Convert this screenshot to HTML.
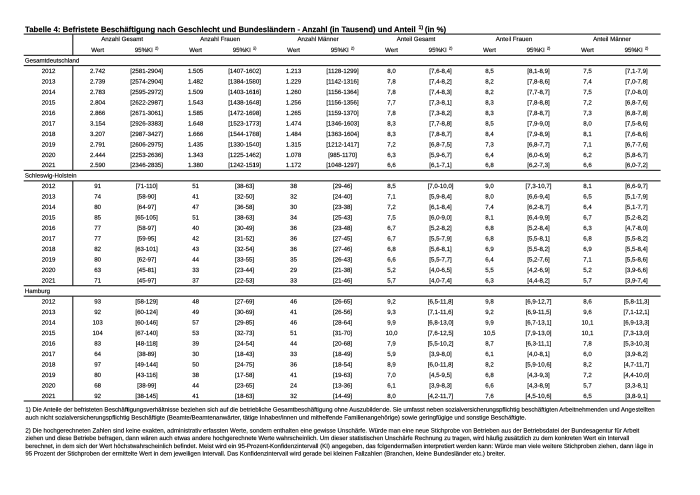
<!DOCTYPE html>
<html lang="de"><head><meta charset="utf-8"><title>Tabelle 4</title>
<style>
html,body{margin:0;padding:0;background:#fff;overflow:hidden}
body{width:700px;height:495px;position:relative;overflow:hidden}
#p{left:0;top:0;width:1400px;height:990px;transform:scale(0.5);transform-origin:0 0;will-change:transform;background:#fff;font-family:"Liberation Sans",Arial,sans-serif;color:#000;-webkit-text-size-adjust:none;text-rendering:geometricPrecision;-webkit-text-stroke:0.28px #000}
div{position:absolute;white-space:nowrap}
.hl,.vl{background:#2b2b2b}
.c{font-size:12.26px;line-height:20.966px;height:20.966px;text-align:center}
.l{font-size:12.26px;line-height:20.966px;height:20.966px}
.t{font-size:15.63px;font-weight:bold;left:50.0px;top:49.6px;line-height:20px;color:#000}
.f{font-size:12.26px;line-height:15.5px;left:50.8px}
sup{font-size:64%;vertical-align:baseline;position:relative;top:-0.6em;line-height:0;margin-left:0.12em}
.t sup{font-size:68%;margin:0 -0.09em 0 0.12em;top:-0.5em}
</style></head><body>
<div id="p">
<div class="t">Tabelle 4: Befristete Beschäftigung nach Geschlecht und Bundesländern - Anzahl (in Tausend) und Anteil <sup>1)</sup> (in %)</div>
<svg width="1400" height="990" fill="#2b2b2b" style="position:absolute;left:0;top:0"><rect x="47.40" y="67.05" width="1273.80" height="2.30"/><rect x="47.40" y="109.58" width="1273.80" height="2.30"/><rect x="144.45" y="68.20" width="2.30" height="42.53"/><rect x="47.40" y="129.95" width="1273.80" height="2.30"/><rect x="144.45" y="131.10" width="2.30" height="209.66"/><rect x="47.40" y="339.61" width="1273.80" height="2.30"/><rect x="47.40" y="360.57" width="1273.80" height="2.30"/><rect x="144.45" y="361.72" width="2.30" height="209.66"/><rect x="47.40" y="570.23" width="1273.80" height="2.30"/><rect x="47.40" y="591.20" width="1273.80" height="2.30"/><rect x="144.45" y="592.35" width="2.30" height="209.66"/><rect x="47.40" y="800.86" width="1273.80" height="2.30"/></svg>
<div class="l" style="left:49.70px;top:110.63px">Gesamtdeutschland</div>
<div class="c" style="left:48.10px;top:131.80px;width:98.20px">2012</div>
<div class="c" style="left:146.30px;top:131.80px;width:97.97px">2.742</div>
<div class="c" style="left:244.27px;top:131.80px;width:97.97px">[2581-2904]</div>
<div class="c" style="left:342.23px;top:131.80px;width:97.97px">1.505</div>
<div class="c" style="left:440.20px;top:131.80px;width:97.97px">[1407-1602]</div>
<div class="c" style="left:538.17px;top:131.80px;width:97.97px">1.213</div>
<div class="c" style="left:636.13px;top:131.80px;width:97.97px">[1128-1299]</div>
<div class="c" style="left:734.10px;top:131.80px;width:97.97px">8,0</div>
<div class="c" style="left:832.07px;top:131.80px;width:97.97px">[7,6-8,4]</div>
<div class="c" style="left:930.03px;top:131.80px;width:97.97px">8,5</div>
<div class="c" style="left:1028.00px;top:131.80px;width:97.97px">[8,1-8,9]</div>
<div class="c" style="left:1125.97px;top:131.80px;width:97.97px">7,5</div>
<div class="c" style="left:1223.93px;top:131.80px;width:97.97px">[7,1-7,9]</div>
<div class="c" style="left:48.10px;top:152.76px;width:98.20px">2013</div>
<div class="c" style="left:146.30px;top:152.76px;width:97.97px">2.739</div>
<div class="c" style="left:244.27px;top:152.76px;width:97.97px">[2574-2904]</div>
<div class="c" style="left:342.23px;top:152.76px;width:97.97px">1.482</div>
<div class="c" style="left:440.20px;top:152.76px;width:97.97px">[1384-1580]</div>
<div class="c" style="left:538.17px;top:152.76px;width:97.97px">1.229</div>
<div class="c" style="left:636.13px;top:152.76px;width:97.97px">[1142-1316]</div>
<div class="c" style="left:734.10px;top:152.76px;width:97.97px">7,8</div>
<div class="c" style="left:832.07px;top:152.76px;width:97.97px">[7,4-8,2]</div>
<div class="c" style="left:930.03px;top:152.76px;width:97.97px">8,2</div>
<div class="c" style="left:1028.00px;top:152.76px;width:97.97px">[7,8-8,6]</div>
<div class="c" style="left:1125.97px;top:152.76px;width:97.97px">7,4</div>
<div class="c" style="left:1223.93px;top:152.76px;width:97.97px">[7,0-7,8]</div>
<div class="c" style="left:48.10px;top:173.73px;width:98.20px">2014</div>
<div class="c" style="left:146.30px;top:173.73px;width:97.97px">2.783</div>
<div class="c" style="left:244.27px;top:173.73px;width:97.97px">[2595-2972]</div>
<div class="c" style="left:342.23px;top:173.73px;width:97.97px">1.509</div>
<div class="c" style="left:440.20px;top:173.73px;width:97.97px">[1403-1616]</div>
<div class="c" style="left:538.17px;top:173.73px;width:97.97px">1.260</div>
<div class="c" style="left:636.13px;top:173.73px;width:97.97px">[1156-1364]</div>
<div class="c" style="left:734.10px;top:173.73px;width:97.97px">7,8</div>
<div class="c" style="left:832.07px;top:173.73px;width:97.97px">[7,4-8,3]</div>
<div class="c" style="left:930.03px;top:173.73px;width:97.97px">8,2</div>
<div class="c" style="left:1028.00px;top:173.73px;width:97.97px">[7,7-8,7]</div>
<div class="c" style="left:1125.97px;top:173.73px;width:97.97px">7,5</div>
<div class="c" style="left:1223.93px;top:173.73px;width:97.97px">[7,0-8,0]</div>
<div class="c" style="left:48.10px;top:194.70px;width:98.20px">2015</div>
<div class="c" style="left:146.30px;top:194.70px;width:97.97px">2.804</div>
<div class="c" style="left:244.27px;top:194.70px;width:97.97px">[2622-2987]</div>
<div class="c" style="left:342.23px;top:194.70px;width:97.97px">1.543</div>
<div class="c" style="left:440.20px;top:194.70px;width:97.97px">[1438-1648]</div>
<div class="c" style="left:538.17px;top:194.70px;width:97.97px">1.256</div>
<div class="c" style="left:636.13px;top:194.70px;width:97.97px">[1156-1356]</div>
<div class="c" style="left:734.10px;top:194.70px;width:97.97px">7,7</div>
<div class="c" style="left:832.07px;top:194.70px;width:97.97px">[7,3-8,1]</div>
<div class="c" style="left:930.03px;top:194.70px;width:97.97px">8,3</div>
<div class="c" style="left:1028.00px;top:194.70px;width:97.97px">[7,8-8,8]</div>
<div class="c" style="left:1125.97px;top:194.70px;width:97.97px">7,2</div>
<div class="c" style="left:1223.93px;top:194.70px;width:97.97px">[6,8-7,6]</div>
<div class="c" style="left:48.10px;top:215.66px;width:98.20px">2016</div>
<div class="c" style="left:146.30px;top:215.66px;width:97.97px">2.866</div>
<div class="c" style="left:244.27px;top:215.66px;width:97.97px">[2671-3061]</div>
<div class="c" style="left:342.23px;top:215.66px;width:97.97px">1.585</div>
<div class="c" style="left:440.20px;top:215.66px;width:97.97px">[1472-1698]</div>
<div class="c" style="left:538.17px;top:215.66px;width:97.97px">1.265</div>
<div class="c" style="left:636.13px;top:215.66px;width:97.97px">[1159-1370]</div>
<div class="c" style="left:734.10px;top:215.66px;width:97.97px">7,8</div>
<div class="c" style="left:832.07px;top:215.66px;width:97.97px">[7,3-8,2]</div>
<div class="c" style="left:930.03px;top:215.66px;width:97.97px">8,3</div>
<div class="c" style="left:1028.00px;top:215.66px;width:97.97px">[7,8-8,7]</div>
<div class="c" style="left:1125.97px;top:215.66px;width:97.97px">7,3</div>
<div class="c" style="left:1223.93px;top:215.66px;width:97.97px">[6,8-7,8]</div>
<div class="c" style="left:48.10px;top:236.63px;width:98.20px">2017</div>
<div class="c" style="left:146.30px;top:236.63px;width:97.97px">3.154</div>
<div class="c" style="left:244.27px;top:236.63px;width:97.97px">[2926-3383]</div>
<div class="c" style="left:342.23px;top:236.63px;width:97.97px">1.648</div>
<div class="c" style="left:440.20px;top:236.63px;width:97.97px">[1523-1773]</div>
<div class="c" style="left:538.17px;top:236.63px;width:97.97px">1.474</div>
<div class="c" style="left:636.13px;top:236.63px;width:97.97px">[1346-1603]</div>
<div class="c" style="left:734.10px;top:236.63px;width:97.97px">8,3</div>
<div class="c" style="left:832.07px;top:236.63px;width:97.97px">[7,7-8,8]</div>
<div class="c" style="left:930.03px;top:236.63px;width:97.97px">8,5</div>
<div class="c" style="left:1028.00px;top:236.63px;width:97.97px">[7,9-9,0]</div>
<div class="c" style="left:1125.97px;top:236.63px;width:97.97px">8,0</div>
<div class="c" style="left:1223.93px;top:236.63px;width:97.97px">[7,5-8,6]</div>
<div class="c" style="left:48.10px;top:257.59px;width:98.20px">2018</div>
<div class="c" style="left:146.30px;top:257.59px;width:97.97px">3.207</div>
<div class="c" style="left:244.27px;top:257.59px;width:97.97px">[2987-3427]</div>
<div class="c" style="left:342.23px;top:257.59px;width:97.97px">1.666</div>
<div class="c" style="left:440.20px;top:257.59px;width:97.97px">[1544-1788]</div>
<div class="c" style="left:538.17px;top:257.59px;width:97.97px">1.484</div>
<div class="c" style="left:636.13px;top:257.59px;width:97.97px">[1363-1604]</div>
<div class="c" style="left:734.10px;top:257.59px;width:97.97px">8,3</div>
<div class="c" style="left:832.07px;top:257.59px;width:97.97px">[7,8-8,7]</div>
<div class="c" style="left:930.03px;top:257.59px;width:97.97px">8,4</div>
<div class="c" style="left:1028.00px;top:257.59px;width:97.97px">[7,9-8,9]</div>
<div class="c" style="left:1125.97px;top:257.59px;width:97.97px">8,1</div>
<div class="c" style="left:1223.93px;top:257.59px;width:97.97px">[7,6-8,6]</div>
<div class="c" style="left:48.10px;top:278.56px;width:98.20px">2019</div>
<div class="c" style="left:146.30px;top:278.56px;width:97.97px">2.791</div>
<div class="c" style="left:244.27px;top:278.56px;width:97.97px">[2606-2975]</div>
<div class="c" style="left:342.23px;top:278.56px;width:97.97px">1.435</div>
<div class="c" style="left:440.20px;top:278.56px;width:97.97px">[1330-1540]</div>
<div class="c" style="left:538.17px;top:278.56px;width:97.97px">1.315</div>
<div class="c" style="left:636.13px;top:278.56px;width:97.97px">[1212-1417]</div>
<div class="c" style="left:734.10px;top:278.56px;width:97.97px">7,2</div>
<div class="c" style="left:832.07px;top:278.56px;width:97.97px">[6,8-7,5]</div>
<div class="c" style="left:930.03px;top:278.56px;width:97.97px">7,3</div>
<div class="c" style="left:1028.00px;top:278.56px;width:97.97px">[6,8-7,7]</div>
<div class="c" style="left:1125.97px;top:278.56px;width:97.97px">7,1</div>
<div class="c" style="left:1223.93px;top:278.56px;width:97.97px">[6,7-7,6]</div>
<div class="c" style="left:48.10px;top:299.53px;width:98.20px">2020</div>
<div class="c" style="left:146.30px;top:299.53px;width:97.97px">2.444</div>
<div class="c" style="left:244.27px;top:299.53px;width:97.97px">[2253-2636]</div>
<div class="c" style="left:342.23px;top:299.53px;width:97.97px">1.343</div>
<div class="c" style="left:440.20px;top:299.53px;width:97.97px">[1225-1462]</div>
<div class="c" style="left:538.17px;top:299.53px;width:97.97px">1.078</div>
<div class="c" style="left:636.13px;top:299.53px;width:97.97px">[985-1170]</div>
<div class="c" style="left:734.10px;top:299.53px;width:97.97px">6,3</div>
<div class="c" style="left:832.07px;top:299.53px;width:97.97px">[5,9-6,7]</div>
<div class="c" style="left:930.03px;top:299.53px;width:97.97px">6,4</div>
<div class="c" style="left:1028.00px;top:299.53px;width:97.97px">[6,0-6,9]</div>
<div class="c" style="left:1125.97px;top:299.53px;width:97.97px">6,2</div>
<div class="c" style="left:1223.93px;top:299.53px;width:97.97px">[5,8-6,7]</div>
<div class="c" style="left:48.10px;top:320.49px;width:98.20px">2021</div>
<div class="c" style="left:146.30px;top:320.49px;width:97.97px">2.590</div>
<div class="c" style="left:244.27px;top:320.49px;width:97.97px">[2346-2835]</div>
<div class="c" style="left:342.23px;top:320.49px;width:97.97px">1.380</div>
<div class="c" style="left:440.20px;top:320.49px;width:97.97px">[1242-1519]</div>
<div class="c" style="left:538.17px;top:320.49px;width:97.97px">1.172</div>
<div class="c" style="left:636.13px;top:320.49px;width:97.97px">[1048-1297]</div>
<div class="c" style="left:734.10px;top:320.49px;width:97.97px">6,6</div>
<div class="c" style="left:832.07px;top:320.49px;width:97.97px">[6,1-7,1]</div>
<div class="c" style="left:930.03px;top:320.49px;width:97.97px">6,8</div>
<div class="c" style="left:1028.00px;top:320.49px;width:97.97px">[6,2-7,3]</div>
<div class="c" style="left:1125.97px;top:320.49px;width:97.97px">6,6</div>
<div class="c" style="left:1223.93px;top:320.49px;width:97.97px">[6,0-7,2]</div>
<div class="l" style="left:49.70px;top:341.26px">Schleswig-Holstein</div>
<div class="c" style="left:48.10px;top:362.42px;width:98.20px">2012</div>
<div class="c" style="left:146.30px;top:362.42px;width:97.97px">91</div>
<div class="c" style="left:244.27px;top:362.42px;width:97.97px">[71-110]</div>
<div class="c" style="left:342.23px;top:362.42px;width:97.97px">51</div>
<div class="c" style="left:440.20px;top:362.42px;width:97.97px">[38-63]</div>
<div class="c" style="left:538.17px;top:362.42px;width:97.97px">38</div>
<div class="c" style="left:636.13px;top:362.42px;width:97.97px">[29-46]</div>
<div class="c" style="left:734.10px;top:362.42px;width:97.97px">8,5</div>
<div class="c" style="left:832.07px;top:362.42px;width:97.97px">[7,0-10,0]</div>
<div class="c" style="left:930.03px;top:362.42px;width:97.97px">9,0</div>
<div class="c" style="left:1028.00px;top:362.42px;width:97.97px">[7,3-10,7]</div>
<div class="c" style="left:1125.97px;top:362.42px;width:97.97px">8,1</div>
<div class="c" style="left:1223.93px;top:362.42px;width:97.97px">[6,6-9,7]</div>
<div class="c" style="left:48.10px;top:383.39px;width:98.20px">2013</div>
<div class="c" style="left:146.30px;top:383.39px;width:97.97px">74</div>
<div class="c" style="left:244.27px;top:383.39px;width:97.97px">[58-90]</div>
<div class="c" style="left:342.23px;top:383.39px;width:97.97px">41</div>
<div class="c" style="left:440.20px;top:383.39px;width:97.97px">[32-50]</div>
<div class="c" style="left:538.17px;top:383.39px;width:97.97px">32</div>
<div class="c" style="left:636.13px;top:383.39px;width:97.97px">[24-40]</div>
<div class="c" style="left:734.10px;top:383.39px;width:97.97px">7,1</div>
<div class="c" style="left:832.07px;top:383.39px;width:97.97px">[5,9-8,4]</div>
<div class="c" style="left:930.03px;top:383.39px;width:97.97px">8,0</div>
<div class="c" style="left:1028.00px;top:383.39px;width:97.97px">[6,6-9,4]</div>
<div class="c" style="left:1125.97px;top:383.39px;width:97.97px">6,5</div>
<div class="c" style="left:1223.93px;top:383.39px;width:97.97px">[5,1-7,9]</div>
<div class="c" style="left:48.10px;top:404.36px;width:98.20px">2014</div>
<div class="c" style="left:146.30px;top:404.36px;width:97.97px">80</div>
<div class="c" style="left:244.27px;top:404.36px;width:97.97px">[64-97]</div>
<div class="c" style="left:342.23px;top:404.36px;width:97.97px">47</div>
<div class="c" style="left:440.20px;top:404.36px;width:97.97px">[36-58]</div>
<div class="c" style="left:538.17px;top:404.36px;width:97.97px">30</div>
<div class="c" style="left:636.13px;top:404.36px;width:97.97px">[23-38]</div>
<div class="c" style="left:734.10px;top:404.36px;width:97.97px">7,2</div>
<div class="c" style="left:832.07px;top:404.36px;width:97.97px">[6,1-8,4]</div>
<div class="c" style="left:930.03px;top:404.36px;width:97.97px">7,4</div>
<div class="c" style="left:1028.00px;top:404.36px;width:97.97px">[6,2-8,7]</div>
<div class="c" style="left:1125.97px;top:404.36px;width:97.97px">6,4</div>
<div class="c" style="left:1223.93px;top:404.36px;width:97.97px">[5,1-7,7]</div>
<div class="c" style="left:48.10px;top:425.32px;width:98.20px">2015</div>
<div class="c" style="left:146.30px;top:425.32px;width:97.97px">85</div>
<div class="c" style="left:244.27px;top:425.32px;width:97.97px">[65-105]</div>
<div class="c" style="left:342.23px;top:425.32px;width:97.97px">51</div>
<div class="c" style="left:440.20px;top:425.32px;width:97.97px">[38-63]</div>
<div class="c" style="left:538.17px;top:425.32px;width:97.97px">34</div>
<div class="c" style="left:636.13px;top:425.32px;width:97.97px">[25-43]</div>
<div class="c" style="left:734.10px;top:425.32px;width:97.97px">7,5</div>
<div class="c" style="left:832.07px;top:425.32px;width:97.97px">[6,0-9,0]</div>
<div class="c" style="left:930.03px;top:425.32px;width:97.97px">8,1</div>
<div class="c" style="left:1028.00px;top:425.32px;width:97.97px">[6,4-9,9]</div>
<div class="c" style="left:1125.97px;top:425.32px;width:97.97px">6,7</div>
<div class="c" style="left:1223.93px;top:425.32px;width:97.97px">[5,2-8,2]</div>
<div class="c" style="left:48.10px;top:446.29px;width:98.20px">2016</div>
<div class="c" style="left:146.30px;top:446.29px;width:97.97px">77</div>
<div class="c" style="left:244.27px;top:446.29px;width:97.97px">[58-97]</div>
<div class="c" style="left:342.23px;top:446.29px;width:97.97px">40</div>
<div class="c" style="left:440.20px;top:446.29px;width:97.97px">[30-49]</div>
<div class="c" style="left:538.17px;top:446.29px;width:97.97px">36</div>
<div class="c" style="left:636.13px;top:446.29px;width:97.97px">[23-48]</div>
<div class="c" style="left:734.10px;top:446.29px;width:97.97px">6,7</div>
<div class="c" style="left:832.07px;top:446.29px;width:97.97px">[5,2-8,2]</div>
<div class="c" style="left:930.03px;top:446.29px;width:97.97px">6,8</div>
<div class="c" style="left:1028.00px;top:446.29px;width:97.97px">[5,2-8,4]</div>
<div class="c" style="left:1125.97px;top:446.29px;width:97.97px">6,3</div>
<div class="c" style="left:1223.93px;top:446.29px;width:97.97px">[4,7-8,0]</div>
<div class="c" style="left:48.10px;top:467.25px;width:98.20px">2017</div>
<div class="c" style="left:146.30px;top:467.25px;width:97.97px">77</div>
<div class="c" style="left:244.27px;top:467.25px;width:97.97px">[59-95]</div>
<div class="c" style="left:342.23px;top:467.25px;width:97.97px">42</div>
<div class="c" style="left:440.20px;top:467.25px;width:97.97px">[31-52]</div>
<div class="c" style="left:538.17px;top:467.25px;width:97.97px">36</div>
<div class="c" style="left:636.13px;top:467.25px;width:97.97px">[27-45]</div>
<div class="c" style="left:734.10px;top:467.25px;width:97.97px">6,7</div>
<div class="c" style="left:832.07px;top:467.25px;width:97.97px">[5,5-7,9]</div>
<div class="c" style="left:930.03px;top:467.25px;width:97.97px">6,8</div>
<div class="c" style="left:1028.00px;top:467.25px;width:97.97px">[5,5-8,1]</div>
<div class="c" style="left:1125.97px;top:467.25px;width:97.97px">6,8</div>
<div class="c" style="left:1223.93px;top:467.25px;width:97.97px">[5,5-8,2]</div>
<div class="c" style="left:48.10px;top:488.22px;width:98.20px">2018</div>
<div class="c" style="left:146.30px;top:488.22px;width:97.97px">82</div>
<div class="c" style="left:244.27px;top:488.22px;width:97.97px">[63-101]</div>
<div class="c" style="left:342.23px;top:488.22px;width:97.97px">43</div>
<div class="c" style="left:440.20px;top:488.22px;width:97.97px">[32-54]</div>
<div class="c" style="left:538.17px;top:488.22px;width:97.97px">36</div>
<div class="c" style="left:636.13px;top:488.22px;width:97.97px">[27-46]</div>
<div class="c" style="left:734.10px;top:488.22px;width:97.97px">6,8</div>
<div class="c" style="left:832.07px;top:488.22px;width:97.97px">[5,6-8,1]</div>
<div class="c" style="left:930.03px;top:488.22px;width:97.97px">6,9</div>
<div class="c" style="left:1028.00px;top:488.22px;width:97.97px">[5,5-8,2]</div>
<div class="c" style="left:1125.97px;top:488.22px;width:97.97px">6,9</div>
<div class="c" style="left:1223.93px;top:488.22px;width:97.97px">[5,5-8,4]</div>
<div class="c" style="left:48.10px;top:509.19px;width:98.20px">2019</div>
<div class="c" style="left:146.30px;top:509.19px;width:97.97px">80</div>
<div class="c" style="left:244.27px;top:509.19px;width:97.97px">[62-97]</div>
<div class="c" style="left:342.23px;top:509.19px;width:97.97px">44</div>
<div class="c" style="left:440.20px;top:509.19px;width:97.97px">[33-55]</div>
<div class="c" style="left:538.17px;top:509.19px;width:97.97px">35</div>
<div class="c" style="left:636.13px;top:509.19px;width:97.97px">[26-43]</div>
<div class="c" style="left:734.10px;top:509.19px;width:97.97px">6,6</div>
<div class="c" style="left:832.07px;top:509.19px;width:97.97px">[5,5-7,7]</div>
<div class="c" style="left:930.03px;top:509.19px;width:97.97px">6,4</div>
<div class="c" style="left:1028.00px;top:509.19px;width:97.97px">[5,2-7,6]</div>
<div class="c" style="left:1125.97px;top:509.19px;width:97.97px">7,1</div>
<div class="c" style="left:1223.93px;top:509.19px;width:97.97px">[5,5-8,6]</div>
<div class="c" style="left:48.10px;top:530.15px;width:98.20px">2020</div>
<div class="c" style="left:146.30px;top:530.15px;width:97.97px">63</div>
<div class="c" style="left:244.27px;top:530.15px;width:97.97px">[45-81]</div>
<div class="c" style="left:342.23px;top:530.15px;width:97.97px">33</div>
<div class="c" style="left:440.20px;top:530.15px;width:97.97px">[23-44]</div>
<div class="c" style="left:538.17px;top:530.15px;width:97.97px">29</div>
<div class="c" style="left:636.13px;top:530.15px;width:97.97px">[21-38]</div>
<div class="c" style="left:734.10px;top:530.15px;width:97.97px">5,2</div>
<div class="c" style="left:832.07px;top:530.15px;width:97.97px">[4,0-6,5]</div>
<div class="c" style="left:930.03px;top:530.15px;width:97.97px">5,5</div>
<div class="c" style="left:1028.00px;top:530.15px;width:97.97px">[4,2-6,9]</div>
<div class="c" style="left:1125.97px;top:530.15px;width:97.97px">5,2</div>
<div class="c" style="left:1223.93px;top:530.15px;width:97.97px">[3,9-6,6]</div>
<div class="c" style="left:48.10px;top:551.12px;width:98.20px">2021</div>
<div class="c" style="left:146.30px;top:551.12px;width:97.97px">71</div>
<div class="c" style="left:244.27px;top:551.12px;width:97.97px">[45-97]</div>
<div class="c" style="left:342.23px;top:551.12px;width:97.97px">37</div>
<div class="c" style="left:440.20px;top:551.12px;width:97.97px">[22-53]</div>
<div class="c" style="left:538.17px;top:551.12px;width:97.97px">33</div>
<div class="c" style="left:636.13px;top:551.12px;width:97.97px">[21-46]</div>
<div class="c" style="left:734.10px;top:551.12px;width:97.97px">5,7</div>
<div class="c" style="left:832.07px;top:551.12px;width:97.97px">[4,0-7,4]</div>
<div class="c" style="left:930.03px;top:551.12px;width:97.97px">6,3</div>
<div class="c" style="left:1028.00px;top:551.12px;width:97.97px">[4,4-8,2]</div>
<div class="c" style="left:1125.97px;top:551.12px;width:97.97px">5,7</div>
<div class="c" style="left:1223.93px;top:551.12px;width:97.97px">[3,9-7,4]</div>
<div class="l" style="left:49.70px;top:571.88px">Hamburg</div>
<div class="c" style="left:48.10px;top:593.05px;width:98.20px">2012</div>
<div class="c" style="left:146.30px;top:593.05px;width:97.97px">93</div>
<div class="c" style="left:244.27px;top:593.05px;width:97.97px">[58-129]</div>
<div class="c" style="left:342.23px;top:593.05px;width:97.97px">48</div>
<div class="c" style="left:440.20px;top:593.05px;width:97.97px">[27-69]</div>
<div class="c" style="left:538.17px;top:593.05px;width:97.97px">46</div>
<div class="c" style="left:636.13px;top:593.05px;width:97.97px">[26-65]</div>
<div class="c" style="left:734.10px;top:593.05px;width:97.97px">9,2</div>
<div class="c" style="left:832.07px;top:593.05px;width:97.97px">[6,5-11,8]</div>
<div class="c" style="left:930.03px;top:593.05px;width:97.97px">9,8</div>
<div class="c" style="left:1028.00px;top:593.05px;width:97.97px">[6,9-12,7]</div>
<div class="c" style="left:1125.97px;top:593.05px;width:97.97px">8,6</div>
<div class="c" style="left:1223.93px;top:593.05px;width:97.97px">[5,8-11,3]</div>
<div class="c" style="left:48.10px;top:614.02px;width:98.20px">2013</div>
<div class="c" style="left:146.30px;top:614.02px;width:97.97px">92</div>
<div class="c" style="left:244.27px;top:614.02px;width:97.97px">[60-124]</div>
<div class="c" style="left:342.23px;top:614.02px;width:97.97px">49</div>
<div class="c" style="left:440.20px;top:614.02px;width:97.97px">[30-69]</div>
<div class="c" style="left:538.17px;top:614.02px;width:97.97px">41</div>
<div class="c" style="left:636.13px;top:614.02px;width:97.97px">[26-56]</div>
<div class="c" style="left:734.10px;top:614.02px;width:97.97px">9,3</div>
<div class="c" style="left:832.07px;top:614.02px;width:97.97px">[7,1-11,6]</div>
<div class="c" style="left:930.03px;top:614.02px;width:97.97px">9,2</div>
<div class="c" style="left:1028.00px;top:614.02px;width:97.97px">[6,9-11,5]</div>
<div class="c" style="left:1125.97px;top:614.02px;width:97.97px">9,6</div>
<div class="c" style="left:1223.93px;top:614.02px;width:97.97px">[7,1-12,1]</div>
<div class="c" style="left:48.10px;top:634.98px;width:98.20px">2014</div>
<div class="c" style="left:146.30px;top:634.98px;width:97.97px">103</div>
<div class="c" style="left:244.27px;top:634.98px;width:97.97px">[60-146]</div>
<div class="c" style="left:342.23px;top:634.98px;width:97.97px">57</div>
<div class="c" style="left:440.20px;top:634.98px;width:97.97px">[29-85]</div>
<div class="c" style="left:538.17px;top:634.98px;width:97.97px">46</div>
<div class="c" style="left:636.13px;top:634.98px;width:97.97px">[28-64]</div>
<div class="c" style="left:734.10px;top:634.98px;width:97.97px">9,9</div>
<div class="c" style="left:832.07px;top:634.98px;width:97.97px">[6,8-13,0]</div>
<div class="c" style="left:930.03px;top:634.98px;width:97.97px">9,9</div>
<div class="c" style="left:1028.00px;top:634.98px;width:97.97px">[6,7-13,1]</div>
<div class="c" style="left:1125.97px;top:634.98px;width:97.97px">10,1</div>
<div class="c" style="left:1223.93px;top:634.98px;width:97.97px">[6,9-13,3]</div>
<div class="c" style="left:48.10px;top:655.95px;width:98.20px">2015</div>
<div class="c" style="left:146.30px;top:655.95px;width:97.97px">104</div>
<div class="c" style="left:244.27px;top:655.95px;width:97.97px">[67-140]</div>
<div class="c" style="left:342.23px;top:655.95px;width:97.97px">53</div>
<div class="c" style="left:440.20px;top:655.95px;width:97.97px">[32-73]</div>
<div class="c" style="left:538.17px;top:655.95px;width:97.97px">51</div>
<div class="c" style="left:636.13px;top:655.95px;width:97.97px">[31-70]</div>
<div class="c" style="left:734.10px;top:655.95px;width:97.97px">10,0</div>
<div class="c" style="left:832.07px;top:655.95px;width:97.97px">[7,6-12,5]</div>
<div class="c" style="left:930.03px;top:655.95px;width:97.97px">10,5</div>
<div class="c" style="left:1028.00px;top:655.95px;width:97.97px">[7,9-13,0]</div>
<div class="c" style="left:1125.97px;top:655.95px;width:97.97px">10,1</div>
<div class="c" style="left:1223.93px;top:655.95px;width:97.97px">[7,3-13,0]</div>
<div class="c" style="left:48.10px;top:676.91px;width:98.20px">2016</div>
<div class="c" style="left:146.30px;top:676.91px;width:97.97px">83</div>
<div class="c" style="left:244.27px;top:676.91px;width:97.97px">[48-118]</div>
<div class="c" style="left:342.23px;top:676.91px;width:97.97px">39</div>
<div class="c" style="left:440.20px;top:676.91px;width:97.97px">[24-54]</div>
<div class="c" style="left:538.17px;top:676.91px;width:97.97px">44</div>
<div class="c" style="left:636.13px;top:676.91px;width:97.97px">[20-68]</div>
<div class="c" style="left:734.10px;top:676.91px;width:97.97px">7,9</div>
<div class="c" style="left:832.07px;top:676.91px;width:97.97px">[5,5-10,2]</div>
<div class="c" style="left:930.03px;top:676.91px;width:97.97px">8,7</div>
<div class="c" style="left:1028.00px;top:676.91px;width:97.97px">[6,3-11,1]</div>
<div class="c" style="left:1125.97px;top:676.91px;width:97.97px">7,8</div>
<div class="c" style="left:1223.93px;top:676.91px;width:97.97px">[5,3-10,3]</div>
<div class="c" style="left:48.10px;top:697.88px;width:98.20px">2017</div>
<div class="c" style="left:146.30px;top:697.88px;width:97.97px">64</div>
<div class="c" style="left:244.27px;top:697.88px;width:97.97px">[38-89]</div>
<div class="c" style="left:342.23px;top:697.88px;width:97.97px">30</div>
<div class="c" style="left:440.20px;top:697.88px;width:97.97px">[18-43]</div>
<div class="c" style="left:538.17px;top:697.88px;width:97.97px">33</div>
<div class="c" style="left:636.13px;top:697.88px;width:97.97px">[18-49]</div>
<div class="c" style="left:734.10px;top:697.88px;width:97.97px">5,9</div>
<div class="c" style="left:832.07px;top:697.88px;width:97.97px">[3,9-8,0]</div>
<div class="c" style="left:930.03px;top:697.88px;width:97.97px">6,1</div>
<div class="c" style="left:1028.00px;top:697.88px;width:97.97px">[4,0-8,1]</div>
<div class="c" style="left:1125.97px;top:697.88px;width:97.97px">6,0</div>
<div class="c" style="left:1223.93px;top:697.88px;width:97.97px">[3,9-8,2]</div>
<div class="c" style="left:48.10px;top:718.85px;width:98.20px">2018</div>
<div class="c" style="left:146.30px;top:718.85px;width:97.97px">97</div>
<div class="c" style="left:244.27px;top:718.85px;width:97.97px">[49-144]</div>
<div class="c" style="left:342.23px;top:718.85px;width:97.97px">50</div>
<div class="c" style="left:440.20px;top:718.85px;width:97.97px">[24-75]</div>
<div class="c" style="left:538.17px;top:718.85px;width:97.97px">36</div>
<div class="c" style="left:636.13px;top:718.85px;width:97.97px">[18-54]</div>
<div class="c" style="left:734.10px;top:718.85px;width:97.97px">8,9</div>
<div class="c" style="left:832.07px;top:718.85px;width:97.97px">[6,0-11,8]</div>
<div class="c" style="left:930.03px;top:718.85px;width:97.97px">8,2</div>
<div class="c" style="left:1028.00px;top:718.85px;width:97.97px">[5,9-10,6]</div>
<div class="c" style="left:1125.97px;top:718.85px;width:97.97px">8,2</div>
<div class="c" style="left:1223.93px;top:718.85px;width:97.97px">[4,7-11,7]</div>
<div class="c" style="left:48.10px;top:739.81px;width:98.20px">2019</div>
<div class="c" style="left:146.30px;top:739.81px;width:97.97px">80</div>
<div class="c" style="left:244.27px;top:739.81px;width:97.97px">[43-116]</div>
<div class="c" style="left:342.23px;top:739.81px;width:97.97px">38</div>
<div class="c" style="left:440.20px;top:739.81px;width:97.97px">[17-58]</div>
<div class="c" style="left:538.17px;top:739.81px;width:97.97px">41</div>
<div class="c" style="left:636.13px;top:739.81px;width:97.97px">[19-63]</div>
<div class="c" style="left:734.10px;top:739.81px;width:97.97px">7,0</div>
<div class="c" style="left:832.07px;top:739.81px;width:97.97px">[4,5-9,5]</div>
<div class="c" style="left:930.03px;top:739.81px;width:97.97px">6,8</div>
<div class="c" style="left:1028.00px;top:739.81px;width:97.97px">[4,3-9,3]</div>
<div class="c" style="left:1125.97px;top:739.81px;width:97.97px">7,2</div>
<div class="c" style="left:1223.93px;top:739.81px;width:97.97px">[4,4-10,0]</div>
<div class="c" style="left:48.10px;top:760.78px;width:98.20px">2020</div>
<div class="c" style="left:146.30px;top:760.78px;width:97.97px">68</div>
<div class="c" style="left:244.27px;top:760.78px;width:97.97px">[38-99]</div>
<div class="c" style="left:342.23px;top:760.78px;width:97.97px">44</div>
<div class="c" style="left:440.20px;top:760.78px;width:97.97px">[23-65]</div>
<div class="c" style="left:538.17px;top:760.78px;width:97.97px">24</div>
<div class="c" style="left:636.13px;top:760.78px;width:97.97px">[13-36]</div>
<div class="c" style="left:734.10px;top:760.78px;width:97.97px">6,1</div>
<div class="c" style="left:832.07px;top:760.78px;width:97.97px">[3,9-8,3]</div>
<div class="c" style="left:930.03px;top:760.78px;width:97.97px">6,6</div>
<div class="c" style="left:1028.00px;top:760.78px;width:97.97px">[4,3-8,9]</div>
<div class="c" style="left:1125.97px;top:760.78px;width:97.97px">5,7</div>
<div class="c" style="left:1223.93px;top:760.78px;width:97.97px">[3,3-8,1]</div>
<div class="c" style="left:48.10px;top:781.74px;width:98.20px">2021</div>
<div class="c" style="left:146.30px;top:781.74px;width:97.97px">92</div>
<div class="c" style="left:244.27px;top:781.74px;width:97.97px">[38-145]</div>
<div class="c" style="left:342.23px;top:781.74px;width:97.97px">41</div>
<div class="c" style="left:440.20px;top:781.74px;width:97.97px">[18-63]</div>
<div class="c" style="left:538.17px;top:781.74px;width:97.97px">32</div>
<div class="c" style="left:636.13px;top:781.74px;width:97.97px">[14-49]</div>
<div class="c" style="left:734.10px;top:781.74px;width:97.97px">8,0</div>
<div class="c" style="left:832.07px;top:781.74px;width:97.97px">[4,2-11,7]</div>
<div class="c" style="left:930.03px;top:781.74px;width:97.97px">7,6</div>
<div class="c" style="left:1028.00px;top:781.74px;width:97.97px">[4,5-10,6]</div>
<div class="c" style="left:1125.97px;top:781.74px;width:97.97px">6,5</div>
<div class="c" style="left:1223.93px;top:781.74px;width:97.97px">[3,8-9,1]</div>
<div class="c" style="left:146.30px;top:68.30px;width:195.93px">Anzahl Gesamt</div>
<div class="c" style="left:146.30px;top:89.67px;width:97.97px">Wert</div>
<div class="c" style="left:244.27px;top:89.67px;width:97.97px">95%KI <sup>2)</sup></div>
<div class="c" style="left:342.23px;top:68.30px;width:195.93px">Anzahl Frauen</div>
<div class="c" style="left:342.23px;top:89.67px;width:97.97px">Wert</div>
<div class="c" style="left:440.20px;top:89.67px;width:97.97px">95%KI <sup>2)</sup></div>
<div class="c" style="left:538.17px;top:68.30px;width:195.93px">Anzahl Männer</div>
<div class="c" style="left:538.17px;top:89.67px;width:97.97px">Wert</div>
<div class="c" style="left:636.13px;top:89.67px;width:97.97px">95%KI <sup>2)</sup></div>
<div class="c" style="left:734.10px;top:68.30px;width:195.93px">Anteil Gesamt</div>
<div class="c" style="left:734.10px;top:89.67px;width:97.97px">Wert</div>
<div class="c" style="left:832.07px;top:89.67px;width:97.97px">95%KI <sup>2)</sup></div>
<div class="c" style="left:930.03px;top:68.30px;width:195.93px">Anteil Frauen</div>
<div class="c" style="left:930.03px;top:89.67px;width:97.97px">Wert</div>
<div class="c" style="left:1028.00px;top:89.67px;width:97.97px">95%KI <sup>2)</sup></div>
<div class="c" style="left:1125.97px;top:68.30px;width:195.93px">Anteil Männer</div>
<div class="c" style="left:1125.97px;top:89.67px;width:97.97px">Wert</div>
<div class="c" style="left:1223.93px;top:89.67px;width:97.97px">95%KI <sup>2)</sup></div>
<div class="f" style="top:812.35px">1) Die Anteile der befristeten Beschäftigungsverhältnisse beziehen sich auf die betriebliche Gesamtbeschäftigung ohne Auszubildende. Sie umfasst neben sozialversicherungspflichtig beschäftigten Arbeitnehmenden und Angestellten</div>
<div class="f" style="top:827.85px">auch nicht sozialversicherungspflichtig Beschäftigte (Beamte/Beamtenanwärter, tätige Inhaber/innen und mithelfende Familienangehörige) sowie geringfügige und sonstige Beschäftigte.</div>
<div class="f" style="top:853.75px">2) Die hochgerechneten Zahlen sind keine exakten, administrativ erfassten Werte, sondern enthalten eine gewisse Unschärfe. Würde man eine neue Stichprobe von Betrieben aus der Betriebsdatei der Bundesagentur für Arbeit</div>
<div class="f" style="top:869.25px">ziehen und diese Betriebe befragen, dann wären auch etwas andere hochgerechnete Werte wahrscheinlich. Um dieser statistischen Unschärfe Rechnung zu tragen, wird häufig zusätzlich zu dem konkreten Wert ein Intervall</div>
<div class="f" style="top:884.75px">berechnet, in dem sich der Wert höchstwahrscheinlich befindet. Meist wird ein 95-Prozent-Konfidenzintervall (KI) angegeben, das folgendermaßen interpretiert werden kann: Würde man viele weitere Stichproben ziehen, dann läge in</div>
<div class="f" style="top:900.25px">95 Prozent der Stichproben der ermittelte Wert in dem jeweiligen Intervall. Das Konfidenzintervall wird gerade bei kleinen Fallzahlen (Branchen, kleine Bundesländer etc.) breiter.</div>
</div>
</body></html>
